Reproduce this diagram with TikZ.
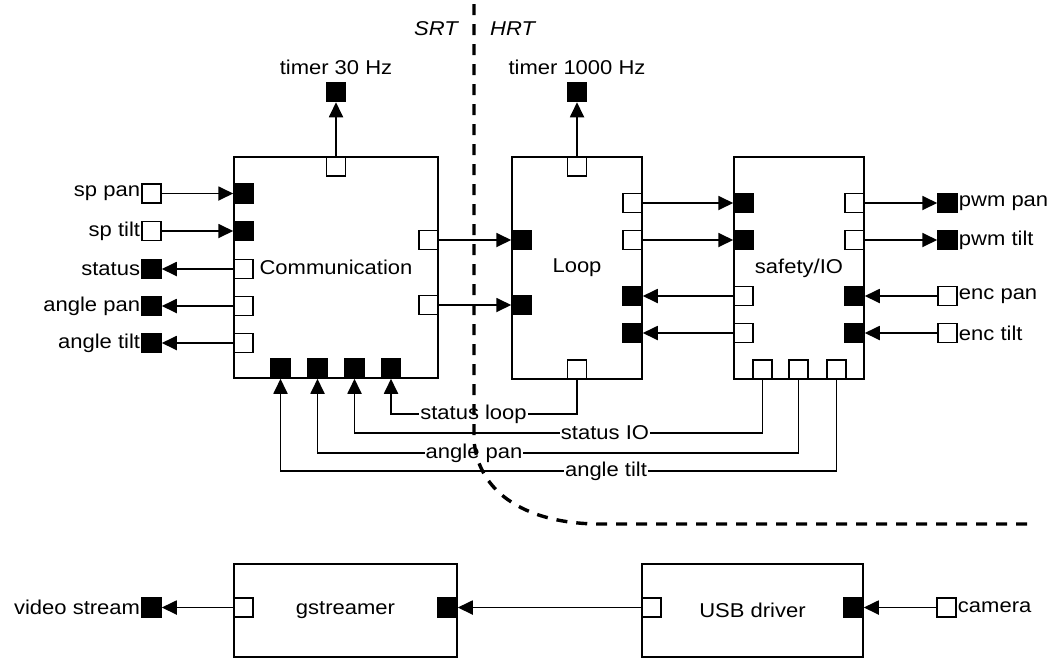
\documentclass[tikz,border=0pt]{standalone}
\usepackage{fontspec}
\setmainfont{Liberation Sans}[FakeStretch=1.1]
\usetikzlibrary{arrows.meta}
\begin{document}
\begin{tikzpicture}[x=1pt,y=-1pt,
  font=\fontsize{20}{24}\selectfont,
  box/.style={draw, line width=1.8pt, inner sep=0},
  port/.style={draw, line width=1.5pt, minimum size=19pt, inner sep=0, fill=white},
  fport/.style={port, fill=black},
  conn/.style={line width=1.8pt, -{Triangle[length=15pt,width=14pt]}},
  lbl/.style={fill=white, inner sep=1pt},
  ltxt/.style={anchor=east, inner sep=1pt},
  rtxt/.style={anchor=west, inner sep=1pt},
  sep/.style={line width=3.4pt, dash pattern=on 11pt off 9pt}]
\useasboundingbox (0,0) rectangle (1051,659);

% ---------- main blocks ----------
\node[box, minimum width=204pt, minimum height=221pt] (comm) at (336,267.5) {Communication};
\node[box, minimum width=130pt, minimum height=222pt] (loop) at (577,268) {Loop};
\node[box, minimum width=130pt, minimum height=222pt] (safe) at (799,268) {safety/IO};
\node[box, minimum width=223pt, minimum height=93pt] (gst) at (345.5,610.5) {gstreamer};
\node[box, minimum width=221pt, minimum height=93pt] (usb) at (752.5,610.5) {USB driver};

% ---------- Communication ports ----------
\node[port]  (cT)  at (336,166.5) {};
\node[fport] (cL1) at (243.5,193.5) {};
\node[fport] (cL2) at (243.5,231) {};
\node[port]  (cL3) at (243.5,269) {};
\node[port]  (cL4) at (243.5,306) {};
\node[port]  (cL5) at (243.5,343) {};
\node[port]  (cR1) at (428.5,240) {};
\node[port]  (cR2) at (428.5,305) {};
\node[fport] (cB1) at (280.5,368.5) {};
\node[fport] (cB2) at (317.5,368.5) {};
\node[fport] (cB3) at (354.5,368.5) {};
\node[fport] (cB4) at (391,368.5) {};

% ---------- Loop ports ----------
\node[port]  (lT)  at (577,166.5) {};
\node[fport] (lL1) at (521.5,240) {};
\node[fport] (lL2) at (521.5,305) {};
\node[port]  (lR1) at (632.5,203) {};
\node[port]  (lR2) at (632.5,240) {};
\node[fport] (lR3) at (632.5,296) {};
\node[fport] (lR4) at (632.5,333) {};
\node[port]  (lB)  at (577,369.5) {};

% ---------- safety/IO ports ----------
\node[fport] (sL1) at (743.5,203) {};
\node[fport] (sL2) at (743.5,240) {};
\node[port]  (sL3) at (743.5,296) {};
\node[port]  (sL4) at (743.5,333) {};
\node[port]  (sR1) at (854.5,203) {};
\node[port]  (sR2) at (854.5,240) {};
\node[fport] (sR3) at (854.5,296) {};
\node[fport] (sR4) at (854.5,333) {};
\node[port]  (sB1) at (762.5,369.5) {};
\node[port]  (sB2) at (798.5,369.5) {};
\node[port]  (sB3) at (836.5,369.5) {};

% ---------- bottom row ports ----------
\node[port]  (gL) at (243.5,607.5) {};
\node[fport] (gR) at (447.5,607.5) {};
\node[port]  (uL) at (651.5,607.5) {};
\node[fport] (uR) at (853.5,607.5) {};

% ---------- external terminals ----------
\node[fport] (t30)   at (336,92) {};
\node[fport] (t1000) at (577,92) {};
\node[anchor=base, inner sep=0] (t30txt)   at (336,74) {timer 30 Hz};
\node[anchor=base, inner sep=0] (t1000txt) at (577,74) {timer 1000 Hz};

\node[port]  (eSpPan)   at (151.5,193.5) {};
\node[port]  (eSpTilt)  at (151.5,231) {};
\node[fport] (eStatus)  at (151.5,269) {};
\node[fport] (eAngPan)  at (151.5,306) {};
\node[fport] (eAngTilt) at (151.5,343) {};
\node[ltxt] (tSpPan)   at (eSpPan.west)   {sp pan};
\node[ltxt] (tSpTilt)  at (eSpTilt.west)  {sp tilt};
\node[ltxt] (tStatus)  at (eStatus.west)  {status};
\node[ltxt] (tAngPan)  at (eAngPan.west)  {angle pan};
\node[ltxt] (tAngTilt) at (eAngTilt.west) {angle tilt};

\node[fport] (ePwmPan)  at (947.5,203) {};
\node[fport] (ePwmTilt) at (947.5,240) {};
\node[port]  (eEncPan)  at (947.5,296) {};
\node[port]  (eEncTilt) at (947.5,333) {};
\node[rtxt] (tPwmPan)  at (ePwmPan.east)  {pwm pan};
\node[rtxt] (tPwmTilt) at (ePwmTilt.east) {pwm tilt};
\node[rtxt] (tEncPan)  at (eEncPan.east)  {enc pan};
\node[rtxt] (tEncTilt) at (eEncTilt.east) {enc tilt};

\node[fport] (eVideo) at (151.5,607.5) {};
\node[port]  (eCam)   at (946.5,607.5) {};
\node[ltxt] (tVideo) at (eVideo.west) {video stream};
\node[rtxt] (tCam)   at (eCam.east)   {camera};

\node[anchor=base east, inner sep=0, font=\fontsize{20}{24}\selectfont\itshape] (srt) at (458,35) {SRT};
\node[anchor=base west, inner sep=0, font=\fontsize{20}{24}\selectfont\itshape] (hrt) at (490,35) {HRT};

% ---------- connectors ----------
\draw[conn] (cT) -- (t30);
\draw[conn] (lT) -- (t1000);
\draw[conn] (eSpPan) -- (cL1);
\draw[conn] (eSpTilt) -- (cL2);
\draw[conn] (cL3) -- (eStatus);
\draw[conn] (cL4) -- (eAngPan);
\draw[conn] (cL5) -- (eAngTilt);
\draw[conn] (cR1) -- (lL1);
\draw[conn] (cR2) -- (lL2);
\draw[conn] (lR1) -- (sL1);
\draw[conn] (lR2) -- (sL2);
\draw[conn] (sL3) -- (lR3);
\draw[conn] (sL4) -- (lR4);
\draw[conn] (sR1) -- (ePwmPan);
\draw[conn] (sR2) -- (ePwmTilt);
\draw[conn] (eEncPan) -- (sR3);
\draw[conn] (eEncTilt) -- (sR4);
\draw[conn] (gL) -- (eVideo);
\draw[conn] (uL) -- (gR);
\draw[conn] (eCam) -- (uR);

\coordinate (y1) at (0,414);
\coordinate (y2) at (0,433);
\coordinate (y3) at (0,453);
\coordinate (y4) at (0,471);
\draw[conn] (lB.south) -- (lB.south |- y1) -- (cB4.south |- y1) -- (cB4.south);
\draw[conn] (sB1.south) -- (sB1.south |- y2) -- (cB3.south |- y2) -- (cB3.south);
\draw[conn] (sB2.south) -- (sB2.south |- y3) -- (cB2.south |- y3) -- (cB2.south);
\draw[conn] (sB3.south) -- (sB3.south |- y4) -- (cB1.south |- y4) -- (cB1.south);
\node[lbl] (lab1) at (473.5,414) {status loop};
\node[lbl] (lab2) at (605,433) {status IO};
\node[lbl] (lab3) at (474,453) {angle pan};
\node[lbl] (lab4) at (606,471) {angle tilt};

% ---------- SRT / HRT separator ----------
\draw[sep] (474,4) -- (474,440) .. controls (478,495) and (530,524) .. (600,524) -- (1033,524);
\end{tikzpicture}
\end{document}
